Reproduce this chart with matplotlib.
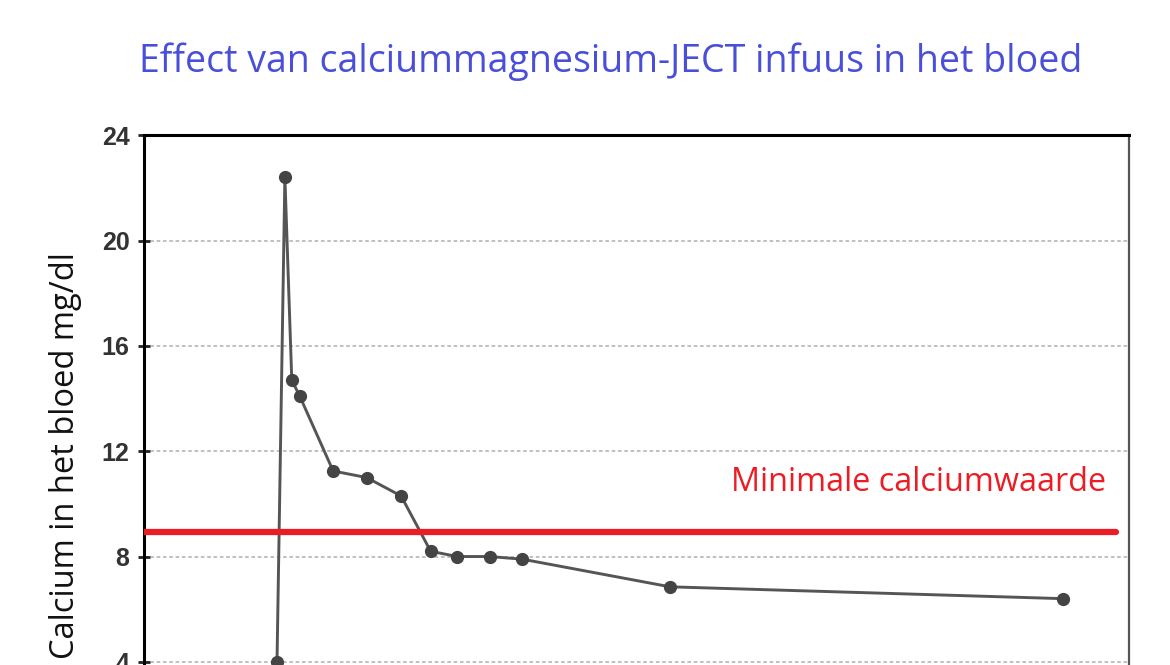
import matplotlib
matplotlib.use("Agg")
import matplotlib.pyplot as plt

# time in arbitrary units (x-axis not visible in the picture)
tijd = [13.5, 14.3, 15.0, 15.8, 19.2, 22.6, 26.1, 29.1, 31.8, 35.1, 38.4, 53.4, 93.3]
calcium = [4.0, 22.4, 14.7, 14.1, 11.25, 11.0, 10.3, 8.2, 8.0, 8.0, 7.9, 6.85, 6.4]
minimum = 8.94
yticks = [4, 8, 12, 16, 20, 24]

fig = plt.figure(figsize=(11.7, 6.65), dpi=100)
ax = fig.add_axes([0.1231, 0.0, 0.8419, 0.7965])

ax.plot(tijd, calcium, color="#555555", lw=2.1, marker="o", ms=8.5,
        markerfacecolor="#444444", markeredgecolor="#444444", zorder=3)
ax.plot([0, 98.7], [minimum, minimum], color="#ec1c24", lw=4.5,
        solid_capstyle="round", zorder=4)
ax.text(59.6, 10.8, "Minimale calciumwaarde", color="#ec1c24",
        fontsize=23.3, family="Open Sans", va="center", ha="left")

ax.set_xlim(0, 100)
ax.set_ylim(3.88, 24)
ax.set_yticks(yticks)
ax.set_xticks([])
ax.yaxis.grid(True, color="#bbbbbb", ls=(0, (2, 1.5)), lw=1.3)
ax.tick_params(axis="y", direction="inout", length=9, width=2, colors="#222222",
               labelsize=18, pad=6)
for lab in ax.get_yticklabels():
    lab.set_fontweight("bold")
    lab.set_family("Liberation Sans")
    lab.set_color("#333333")
ax.spines["left"].set_linewidth(2.2)
ax.spines["top"].set_linewidth(2.2)
ax.spines["right"].set_linewidth(1.6)
ax.spines["right"].set_color("#555555")
ax.spines["bottom"].set_visible(False)

ax.set_ylabel("Calcium in het bloed mg/dl", fontsize=23.5, family="Open Sans",
              color="#111111")
ax.yaxis.set_label_coords(-0.063, 0.395)

fig.text(0.522, 0.907, "Effect van calciummagnesium-JECT infuus in het bloed",
         color="#4a4fd9", fontsize=27, family="Open Sans", ha="center", va="center")

fig.savefig("out.png", dpi=100)
